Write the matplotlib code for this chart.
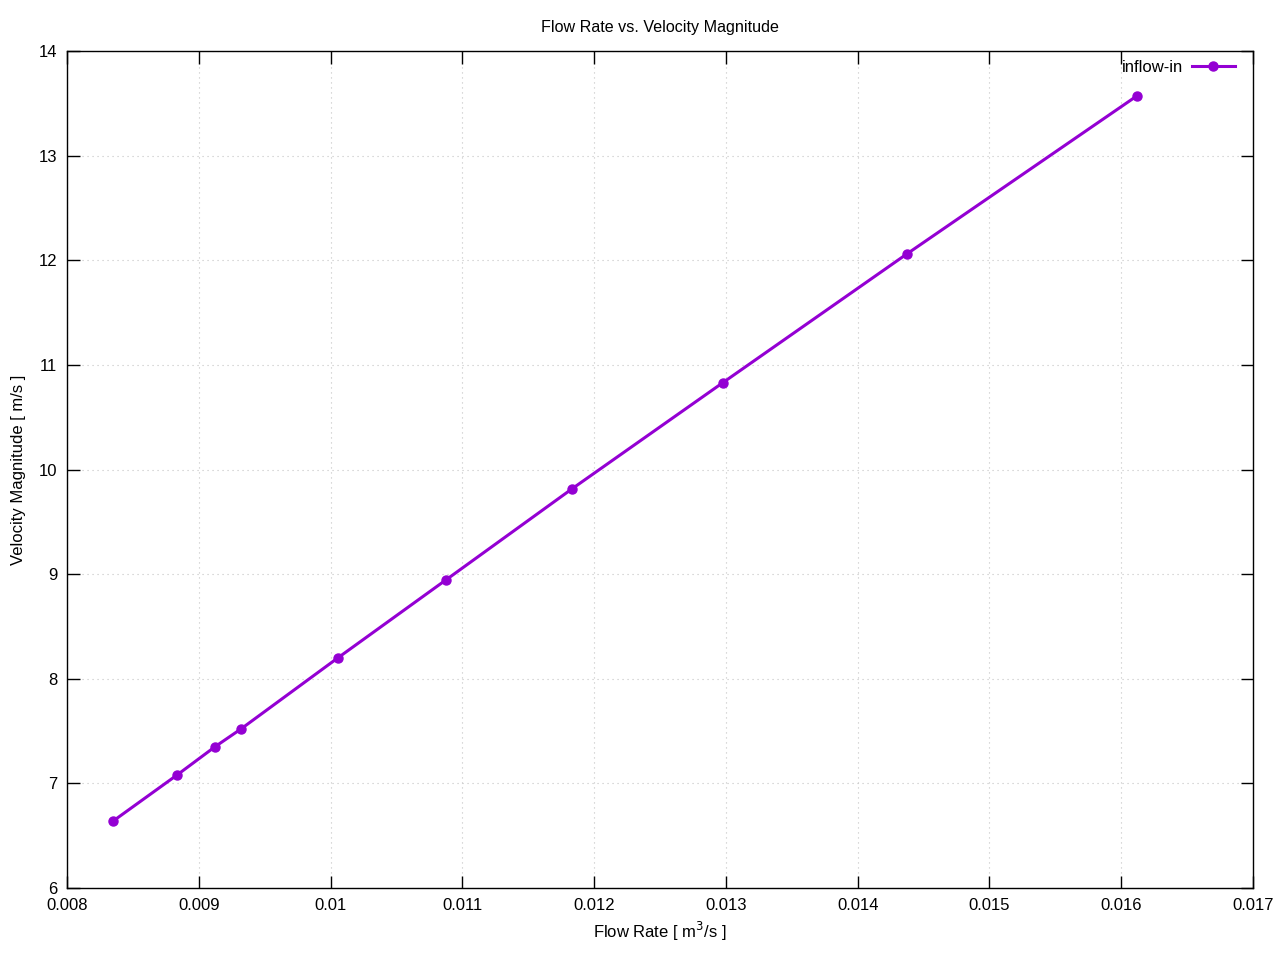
import numpy as np
import matplotlib.pyplot as plt

plt.rcParams['font.family'] = ['Liberation Sans', 'DejaVu Sans']

flowRate = [0.00835, 0.008835, 0.009123, 0.00932, 0.010056, 0.010876,
            0.011832, 0.012977, 0.014373, 0.016118]
velocity = [6.64, 7.08, 7.35, 7.52, 8.20, 8.945, 9.815, 10.83, 12.06, 13.57]

fig = plt.figure(figsize=(12.8, 9.6), dpi=100)
ax = fig.add_axes([67/1280, 72/960, 1186/1280, 837/960])

ax.plot(flowRate, velocity, color='#9400D3', linewidth=2.2, marker='o',
        markersize=6.5, label='inflow-in')

ax.set_xlim(0.008, 0.017)
ax.set_ylim(6, 14)
ax.set_xticks(np.arange(0.008, 0.01701, 0.001))
ax.set_xticklabels(['0.008', '0.009', '0.01', '0.011', '0.012', '0.013',
                    '0.014', '0.015', '0.016', '0.017'])
ax.set_yticks(np.arange(6, 14.1, 1))
ax.tick_params(direction='in', top=True, right=True, length=9, width=1,
               labelsize=12, pad=7, color='black')
ax.grid(True, linestyle=(0, (1, 3.5)), color='#c4c4c4', linewidth=0.8)
for s in ax.spines.values():
    s.set_linewidth(1)

ax.set_title('Flow Rate vs. Velocity Magnitude', fontsize=11.6, pad=14)
ax.set_xlabel('Flow Rate [ m$^3$/s ]', fontsize=12, labelpad=5)
ax.set_ylabel('Velocity Magnitude [ m/s ]', fontsize=12, labelpad=9)

leg = ax.legend(loc='upper right', frameon=False, fontsize=12,
                markerfirst=False, handlelength=2.6, handletextpad=0.5,
                borderaxespad=0.15, bbox_to_anchor=(0.9925, 1.0))

fig.savefig('out.png', dpi=100)
